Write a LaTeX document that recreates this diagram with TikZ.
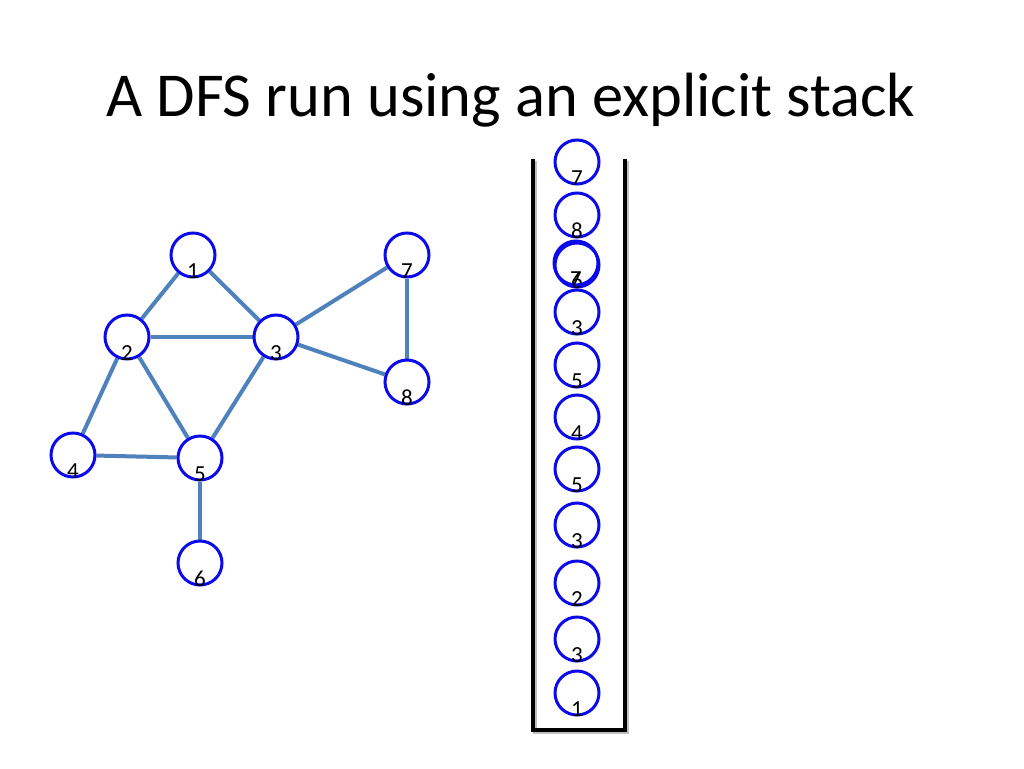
\documentclass[tikz,border=0pt]{standalone}
\usepackage{fontspec}
\setmainfont{Carlito}
\usetikzlibrary{backgrounds}
\definecolor{edgeblue}{RGB}{79,129,189}
\definecolor{ringblue}{RGB}{10,10,235}
\tikzset{
  vtx/.style={circle, draw=ringblue, line width=3pt, minimum size=44pt, inner sep=0pt},
  lbl/.style={font=\fontsize{23}{23}\selectfont, text=black, inner sep=0pt},
  edge/.style={draw=edgeblue, line width=4pt},
  wall/.style={draw=black, line width=4pt},
  wallshadow/.style={draw=black!25, line width=4pt},
}
\newcommand{\myvtx}[4]{\node[vtx, label={[lbl, yshift=-16pt]center:#4}] (#1) at (#2,#3) {};}
\begin{document}
\begin{tikzpicture}[x=1pt, y=-1pt]
\useasboundingbox (0,0) rectangle (1024,768);
\node[font=\fontsize{62.5}{62.5}\selectfont, anchor=base] (title) at (511,116) {A DFS run using an explicit stack};
% graph
\myvtx{g1}{193}{255}{1}
\myvtx{g2}{127}{337}{2}
\myvtx{g3}{276}{337}{3}
\myvtx{g7}{407}{255}{7}
\myvtx{g8}{407}{382}{8}
\myvtx{g4}{73}{455}{4}
\myvtx{g5}{200}{458}{5}
\myvtx{g6}{200}{563}{6}
% stack
\myvtx{s1}{577}{162}{7}
\myvtx{s2}{577}{215}{8}
\myvtx{s3}{577}{265}{6}
\myvtx{s3b}{576}{263}{7}
\myvtx{s4}{577}{312}{3}
\myvtx{s5}{577}{365}{5}
\myvtx{s6}{577}{417}{4}
\myvtx{s7}{577}{469}{5}
\myvtx{s8}{577}{525}{3}
\myvtx{s9}{577}{583}{2}
\myvtx{s10}{577}{639}{3}
\myvtx{s11}{577}{693}{1}
\coordinate (wl) at (533,159);
\coordinate (bl) at (533,730);
\coordinate (br) at (625,730);
\coordinate (wr) at (625,159);
\begin{scope}[on background layer]
\fill[white] (0,0) rectangle (1024,768);
\draw[wallshadow] ([shift={(2,2)}]wl) -- ([shift={(2,2)}]bl) -- ([shift={(2,2)}]br) -- ([shift={(2,2)}]wr);
\draw[edge] (g1) -- (g2);
\draw[edge] (g1) -- (g3);
\draw[edge] (g2) -- (g3);
\draw[edge] (g2) -- (g4);
\draw[edge] (g2) -- (g5);
\draw[edge] (g3) -- (g5);
\draw[edge] (g3) -- (g7);
\draw[edge] (g3) -- (g8);
\draw[edge] (g7) -- (g8);
\draw[edge] (g4) -- (g5);
\draw[edge] (g5) -- (g6);
\end{scope}
\draw[wall] (wl) -- (bl) -- (br) -- (wr);
\end{tikzpicture}
\end{document}
